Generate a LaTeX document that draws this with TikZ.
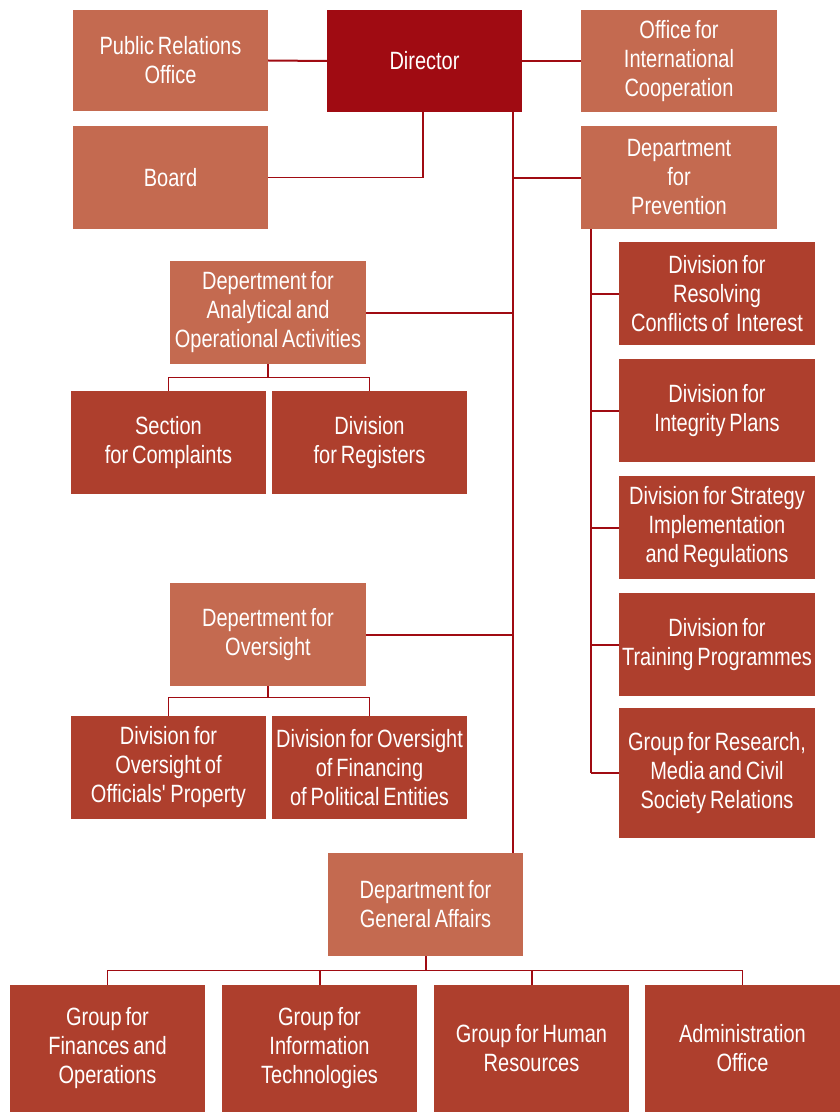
\documentclass[tikz,border=0pt]{standalone}
\usepackage{fontspec}
\setmainfont[FakeStretch=0.8,WordSpace=0.7]{Liberation Sans}
\definecolor{lightbox}{HTML}{C46A50}
\definecolor{dirbox}{HTML}{A00B12}
\definecolor{midbox}{HTML}{AE3F2D}
\definecolor{linecol}{HTML}{A00B12}
\begin{document}
\begin{tikzpicture}[x=1pt,y=-1pt,
  box/.style={rectangle, inner sep=0pt, text=white, align=center,
    font=\fontsize{25}{29}\selectfont, minimum width=195pt, minimum height=103pt},
  lbox/.style={box, fill=lightbox},
  dbox/.style={box, fill=dirbox},
  mbox/.style={box, fill=midbox},
  conn/.style={draw=linecol, line width=2pt},
  thin/.style={draw=linecol, line width=1.4pt}]
\useasboundingbox (0,0) rectangle (840,1113);
% top row
\node[lbox, minimum height=101pt] (pr) at (170.5,60.5) {Public Relations\\Office};
\node[dbox, minimum height=102pt] (dir) at (424.5,61) {Director};
\node[lbox, minimum height=102pt, minimum width=196pt] (oic) at (679,61) {Office for\\International\\Cooperation};
\node[lbox] (board) at (170.5,177.5) {Board};
\node[lbox, minimum width=196pt] (prev) at (679,177.5) {Department\\for\\Prevention};
% analytical
\node[lbox, minimum width=196pt] (ana) at (268,312.5) {Depertment for\\Analytical and\\Operational Activities};
\node[mbox] (sec) at (168.5,442.5) {Section\\for Complaints};
\node[mbox] (reg) at (369.5,442.5) {Division\\for Registers};
% prevention subtree
\node[mbox, minimum width=196pt] (res) at (717,293.5) {Division for\\Resolving\\Conflicts of~ Interest};
\node[mbox, minimum width=196pt] (integ) at (717,410.5) {Division for\\Integrity Plans};
\node[mbox, minimum width=196pt] (strat) at (717,527.5) {Division for Strategy\\Implementation\\and Regulations};
\node[mbox, minimum width=196pt] (train) at (717,644.5) {Division for\\Training Programmes};
\node[mbox, minimum width=196pt, minimum height=130pt] (grp) at (717,773) {Group for Research,\\Media and Civil\\Society Relations};
% oversight
\node[lbox, minimum width=196pt] (over) at (268,634.5) {Depertment for\\Oversight};
\node[mbox] (ovoff) at (168.5,767.5) {Division for\\Oversight of\\Officials\textquotesingle{} Property};
\node[mbox] (ovfin) at (369.5,767.5) {Division for Oversight\\of Financing\\of Political Entities};
% general affairs
\node[lbox] (gen) at (425.5,904.5) {Department for\\General Affairs};
\node[mbox, minimum height=127pt] (fin) at (107.5,1048.5) {Group for\\Finances and\\Operations};
\node[mbox, minimum height=127pt] (it) at (319.5,1048.5) {Group for\\Information\\Technologies};
\node[mbox, minimum height=127pt] (hr) at (531.5,1048.5) {Group for Human\\Resources};
\node[mbox, minimum height=127pt] (adm) at (742.5,1048.5) {Administration\\Office};
% helper coordinates
\coordinate (t) at (513,0);
\coordinate (p) at (591,0);
\coordinate (bx) at (423,0);
% top connectors
\draw[conn] (pr.east) -- (dir.west);
\draw[conn] (dir.east) -- (oic.west);
\draw[thin] (board.east) -- (bx |- board.east) -- (bx |- dir.south);
% trunk
\draw[conn] (dir.south -| t) -- (gen.north -| t);
\draw[conn] (t |- prev.west) -- (prev.west);
\draw[conn] (t |- ana.east) -- (ana.east);
\draw[conn] (t |- over.east) -- (over.east);
% prevention subtree
\draw[thin] (prev.south -| p) -- (p |- grp.west);
\foreach \n in {res,integ,strat,train,grp}
  \draw[conn] (p |- \n.west) -- (\n.west);
% analytical children
\draw[conn] (ana.south) -- ++(0,13) coordinate (ab);
\draw[thin] (sec.north) -- (sec.north |- ab) -- (reg.north |- ab) -- (reg.north);
% oversight children
\draw[conn] (over.south) -- ++(0,11) coordinate (ob);
\draw[thin] (ovoff.north) -- (ovoff.north |- ob) -- (ovfin.north |- ob) -- (ovfin.north);
% general children
\draw[conn] (gen.south) -- ++(0,14) coordinate (gb);
\draw[thin] (fin.north) -- (fin.north |- gb) -- (adm.north |- gb) -- (adm.north);
\draw[conn] (it.north |- gb) -- (it.north);
\draw[conn] (hr.north |- gb) -- (hr.north);
\end{tikzpicture}
\end{document}
